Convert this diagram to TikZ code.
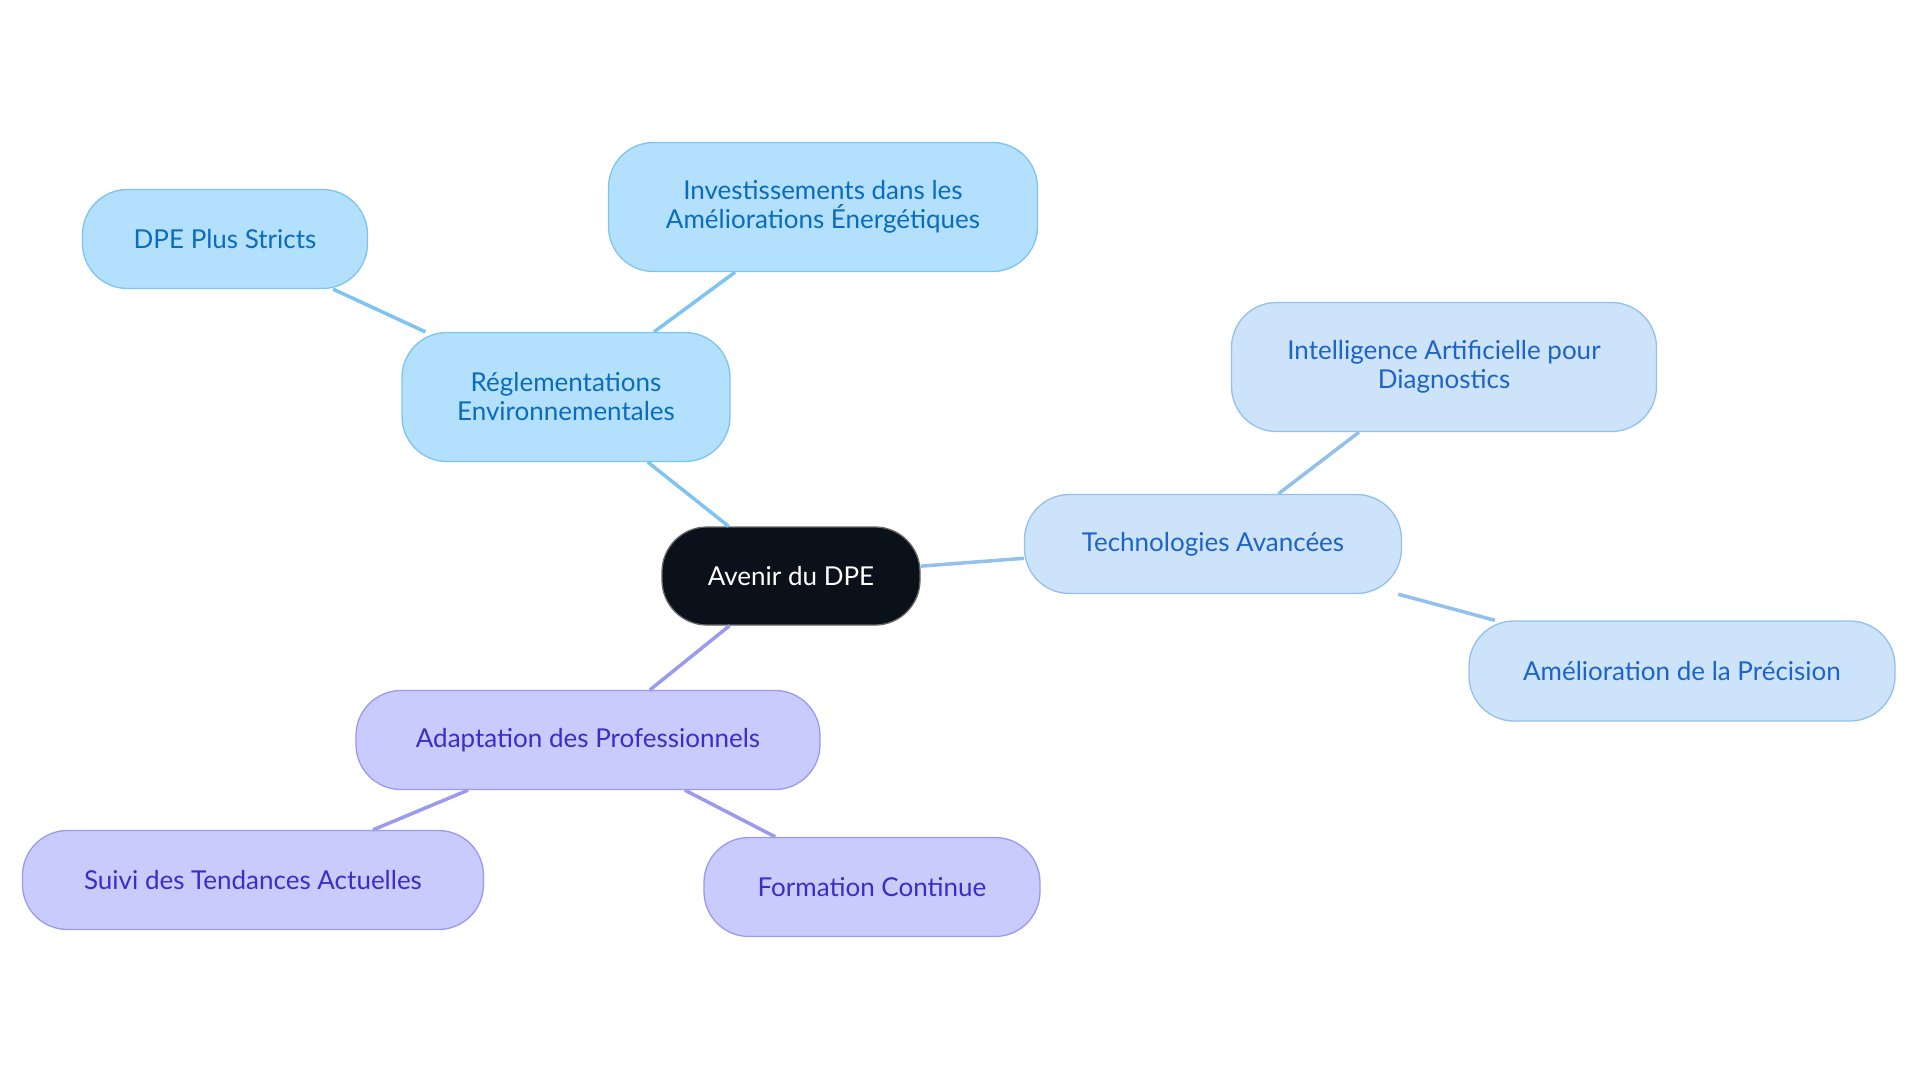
\documentclass[tikz,border=0pt]{standalone}
\usepackage{fontspec}
\setmainfont{Lato}
\definecolor{bAf}{HTML}{B3E0FD}\definecolor{bAd}{HTML}{7DC4F0}\definecolor{bAt}{HTML}{0A6BBF}
\definecolor{bBf}{HTML}{CCE3FA}\definecolor{bBd}{HTML}{93C0ED}\definecolor{bBt}{HTML}{1D63C8}
\definecolor{pf}{HTML}{CACBFD}\definecolor{pd}{HTML}{9A9AEE}\definecolor{pt}{HTML}{3A2DC8}
\definecolor{cf}{HTML}{0B111A}
\tikzset{
 box/.style={rounded corners=45pt,line width=1.3pt,align=center,inner sep=0pt,font=\fontsize{26}{29}\selectfont},
 ba/.style={box,fill=bAf,draw=bAd,text=bAt},
 bb/.style={box,fill=bBf,draw=bBd,text=bBt},
 pp/.style={box,fill=pf,draw=pd,text=pt},
 ea/.style={draw=bAd,line width=3.5pt},
 eb/.style={draw=bBd,line width=3.5pt},
 ep/.style={draw=pd,line width=3.5pt},
}
\begin{document}
\begin{tikzpicture}[x=1pt,y=-1pt]
\useasboundingbox (0,0) rectangle (1920,1083);
\node[box,fill=cf,draw=black!60,text=white,minimum width=258pt,minimum height=98pt] (c) at (791,576) {Avenir du DPE};
\node[ba,minimum width=328pt,minimum height=129pt] (r) at (566,397) {Réglementations\\Environnementales};
\node[ba,minimum width=285pt,minimum height=99pt] (d) at (225,239) {DPE Plus Stricts};
\node[ba,minimum width=429pt,minimum height=129pt] (i) at (823,207) {Investissements dans les\\Améliorations Énergétiques};
\node[bb,minimum width=377pt,minimum height=99pt] (t) at (1213,544) {Technologies Avancées};
\node[bb,minimum width=425pt,minimum height=129pt] (ai) at (1444,367) {Intelligence Artificielle pour\\Diagnostics};
\node[bb,minimum width=426pt,minimum height=100pt] (am) at (1682,671) {Amélioration de la Précision};
\node[pp,minimum width=464pt,minimum height=99pt] (a) at (588,740) {Adaptation des Professionnels};
\node[pp,minimum width=461pt,minimum height=99pt] (s) at (253,880) {Suivi des Tendances Actuelles};
\node[pp,minimum width=336pt,minimum height=99pt] (f) at (872,887) {Formation Continue};
\begin{scope}[on background layer/.style={}]
\end{scope}
\path[ea] (c) -- (r); \path[ea] (r) -- (d); \path[ea] (r) -- (i);
\path[eb] (c) -- (t); \path[eb] (t) -- (ai); \path[eb] (t) -- (am);
\path[ep] (c) -- (a); \path[ep] (a) -- (s); \path[ep] (a) -- (f);
\end{tikzpicture}
\end{document}
